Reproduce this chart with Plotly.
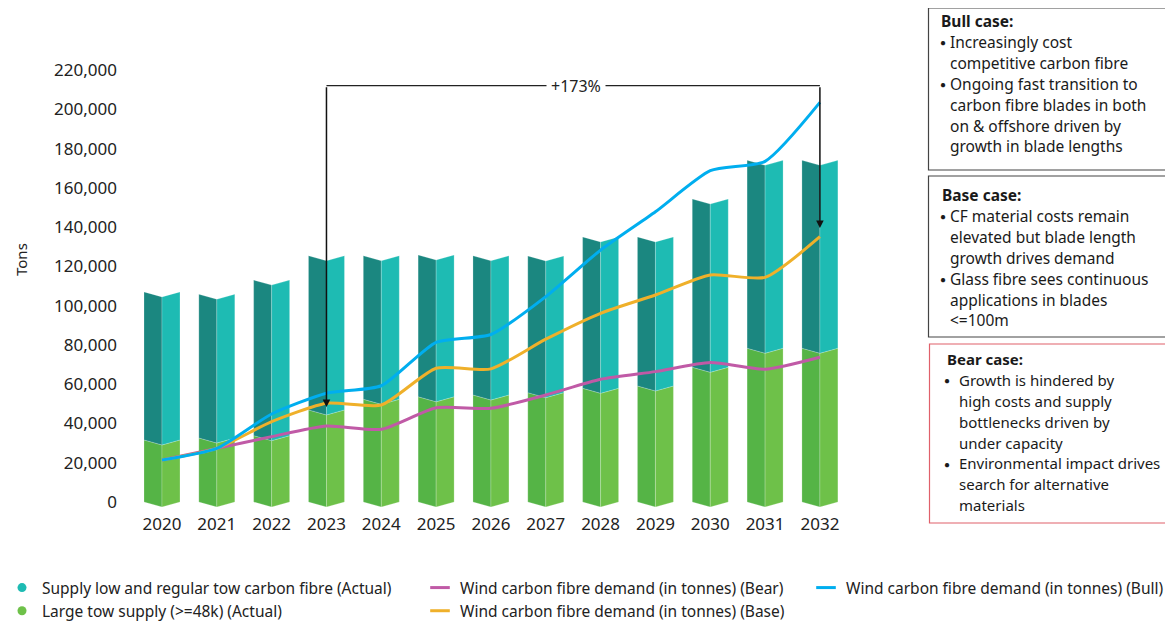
import plotly.graph_objects as go

# ---------------- data ----------------
years = [2020, 2021, 2022, 2023, 2024, 2025, 2026, 2027, 2028, 2029, 2030, 2031, 2032]
large_tow_supply = [31600, 32600, 33800, 46900, 52300, 53600, 54500, 55700, 57900, 59100, 68600, 78300, 78300]
low_regular_supply = [75400, 73200, 79200, 78500, 73100, 72200, 70900, 69600, 77100, 75900, 85700, 95700, 95700]
demand_bear = [21400, 27300, 33300, 38700, 37000, 48000, 47700, 54500, 62500, 66400, 71000, 67600, 73700]
demand_base = [21400, 27300, 40900, 50300, 49400, 68100, 67800, 82900, 96100, 105400, 115600, 114400, 135100]
demand_bull = [21400, 27300, 44800, 55400, 59200, 81300, 85300, 104600, 128300, 147800, 168700, 173500, 203500]
y_ticks = [0, 20000, 40000, 60000, 80000, 100000, 120000, 140000, 160000, 180000, 200000, 220000]
y_tick_labels = ["0", "20,000", "40,000", "60,000", "80,000", "100,000", "120,000",
                 "140,000", "160,000", "180,000", "200,000", "220,000"]

bull_lines = ["Increasingly cost|competitive carbon fibre",
              "Ongoing fast transition to|carbon fibre blades in both|on & offshore driven by|growth in blade lengths"]
base_lines = ["CF material costs remain|elevated but blade length|growth drives demand",
              "Glass fibre sees continuous|applications in blades|<=100m"]
bear_lines = ["Growth is hindered by|high costs and supply|bottlenecks driven by|under capacity",
              "Environmental impact drives|search for alternative|materials"]

# ---------------- layout geometry ----------------
OFF = 8  # page body margin
W, H = 1173 - OFF, 625 - OFF
ML, MR, MT, MB = 128 - OFF, 318, 60 - OFF, 115
PW, PH = W - ML - MR, H - MT - MB
X_RANGE = [2019.38, 2032.64]
Y_RANGE = [-4074, 225093]
FONT = "Noto Sans"

def px_x(p):  # reference-screen pixel -> paper
    return (p - OFF - ML) / PW

def px_y(p):
    return (H - MB - (p - OFF)) / PH

HALF = 0.328   # half bar width (data units)
DIP = 2550     # V-notch depth (data units)

def faces(bases, tops, side):
    xs, ys = [], []
    for x, b, t in zip(years, bases, tops):
        if side == "left":
            xs += [x - HALF, x, x, x - HALF, x - HALF, None]
            ys += [b, b - DIP, t - DIP, t, b, None]
        else:
            xs += [x, x + HALF, x + HALF, x, x, None]
            ys += [b - DIP, b, t, t - DIP, b - DIP, None]
    return xs, ys

fig = go.Figure()

zeros = [0] * len(years)
totals = [a + b for a, b in zip(large_tow_supply, low_regular_supply)]

C_GREEN_D, C_GREEN_L = "#55b446", "#6ec149"
C_TEAL_D, C_TEAL_L = "#1b8780", "#1ebbb3"

for bases, tops, side, col in [
    (zeros, large_tow_supply, "left", C_GREEN_D),
    (zeros, large_tow_supply, "right", C_GREEN_L),
    (large_tow_supply, totals, "left", C_TEAL_D),
    (large_tow_supply, totals, "right", C_TEAL_L),
]:
    xs, ys = faces(bases, tops, side)
    fig.add_trace(go.Scatter(x=xs, y=ys, mode="lines", fill="toself", fillcolor=col,
                             line=dict(width=0.6, color="rgba(255,255,255,0.35)"),
                             showlegend=False, hoverinfo="skip"))

# demand lines
line_specs = [
    (demand_bear, "#c05aa6", "Wind carbon fibre demand (in tonnes) (Bear)", "legend2"),
    (demand_base, "#efb02a", "Wind carbon fibre demand (in tonnes) (Base)", "legend2"),
    (demand_bull, "#00aeef", "Wind carbon fibre demand (in tonnes) (Bull)", "legend3"),
]
for vals, col, name, lg in line_specs:
    fig.add_trace(go.Scatter(x=years, y=vals, mode="lines", name=name,
                             line=dict(color=col, width=3, shape="spline", smoothing=0.6),
                             showlegend=False))

# legend proxies
fig.add_trace(go.Scatter(x=[None], y=[None], mode="markers", name="Supply low and regular tow carbon fibre (Actual)",
                         marker=dict(color=C_TEAL_L, size=9, symbol="circle"), legend="legend"))
fig.add_trace(go.Scatter(x=[None], y=[None], mode="markers", name="Large tow supply (>=48k) (Actual)",
                         marker=dict(color=C_GREEN_L, size=9, symbol="circle"), legend="legend"))
for vals, col, name, lg in line_specs:
    fig.add_trace(go.Scatter(x=[None], y=[None], mode="markers", name=name, legend=lg,
                             marker=dict(symbol="line-ew", size=14, color=col,
                                         line=dict(color=col, width=3))))

# bracket +173%
BR_Y = 212000
fig.add_shape(type="line", x0=2023, x1=2032, y0=BR_Y, y1=BR_Y, xref="x", yref="y",
              line=dict(color="#222", width=1.3))
for xv, tip in [(2023, 48400), (2032, 139500)]:
    fig.add_annotation(x=xv, y=tip, ax=xv, ay=BR_Y, xref="x", yref="y", axref="x", ayref="y",
                       text="", showarrow=True, arrowhead=2, arrowsize=1, arrowwidth=1.5,
                       arrowcolor="#111")
fig.add_annotation(x=2027.55, y=BR_Y, xref="x", yref="y", text="+173%", showarrow=False,
                   bgcolor="white", font=dict(family=FONT, size=16, color="#222"), borderpad=4)

# Tons label
fig.add_annotation(x=px_x(21), y=px_y(260), xref="paper", yref="paper", text="Tons", textangle=-90,
                   showarrow=False, font=dict(family=FONT, size=15, color="#222"),
                   xanchor="center", yanchor="middle")

# side boxes
def box(x0, y0, x1, y1, col):
    fig.add_shape(type="rect", xref="paper", yref="paper", x0=px_x(x0), x1=px_x(x1),
                  y0=px_y(y1), y1=px_y(y0), line=dict(color=col, width=1.2), fillcolor="rgba(0,0,0,0)")

box(928.5, 8, 1185, 170, "#444")
box(928.5, 176, 1185, 337, "#444")
box(929.5, 344, 1172, 523, "#e0606a")

def text_block(title, items, tx, bx, ix, base0, size=15.5, step=20.9):
    def ann(x, baseline, txt, bold=False, sz=size, pad=1):
        fig.add_annotation(x=px_x(x), y=px_y(baseline - 5), xref="paper", yref="paper", text=txt,
                           showarrow=False, xanchor="left", yanchor="middle", align="left",
                           borderpad=pad,
                           font=dict(family=FONT, size=sz, color="#1a1a1a",
                                     weight="bold" if bold else "normal"))
    ann(tx, base0, title, bold=True)
    b = base0
    for item in items:
        for k, line in enumerate(item.split("|")):
            b += step
            if k == 0:
                ann(bx - 2, b + 0.5, "●", sz=10, pad=0)
            ann(ix, b, line)

text_block("Bull case:", bull_lines, 939, 941, 948, 26)
text_block("Base case:", base_lines, 940, 941, 948, 200)
text_block("Bear case:", bear_lines, 945, 945, 957, 364, size=15)

LEG_FONT = dict(family=FONT, size=15.5, color="#222")
LEG_TOP = px_y(571)
fig.update_layout(
    width=W, height=H,
    margin=dict(l=ML, r=MR, t=MT, b=MB, autoexpand=False),
    plot_bgcolor="white", paper_bgcolor="white",
    font=dict(family=FONT, size=16, color="#222"),
    xaxis=dict(range=X_RANGE, tickmode="array", tickvals=years, ticktext=[str(y) for y in years],
               showgrid=False, zeroline=False, showline=False, ticks="",
               tickfont=dict(family=FONT, size=17, color="#222"), ticklabelstandoff=2),
    yaxis=dict(range=Y_RANGE, tickmode="array", tickvals=y_ticks, ticktext=y_tick_labels,
               showgrid=False, zeroline=False, showline=False, ticks="",
               tickfont=dict(family=FONT, size=17, color="#222"), ticklabelstandoff=10),
    legend=dict(x=px_x(2), y=LEG_TOP, xanchor="left", yanchor="top", orientation="v",
                font=LEG_FONT, bgcolor="rgba(0,0,0,0)", itemwidth=30, tracegroupgap=0),
    legend2=dict(x=px_x(420), y=LEG_TOP, xanchor="left", yanchor="top", orientation="v",
                 font=LEG_FONT, bgcolor="rgba(0,0,0,0)", itemwidth=30, tracegroupgap=0),
    legend3=dict(x=px_x(806), y=LEG_TOP, xanchor="left", yanchor="top", orientation="v",
                 font=LEG_FONT, bgcolor="rgba(0,0,0,0)", itemwidth=30, tracegroupgap=0),
)

fig.write_html("out.html")
